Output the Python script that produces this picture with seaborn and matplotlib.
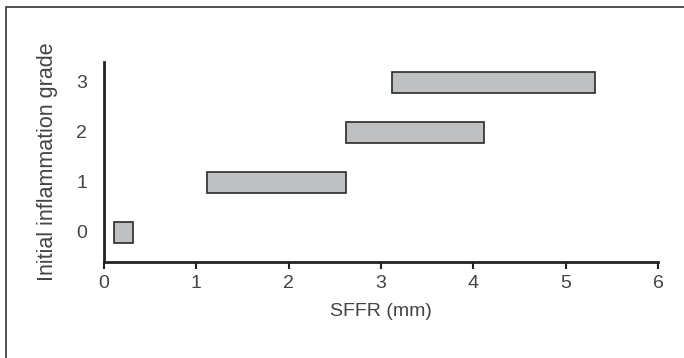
import matplotlib
matplotlib.use("Agg")
import matplotlib.pyplot as plt
import seaborn as sns
import numpy as np
from matplotlib.patches import Rectangle

grades = [0, 1, 2, 3]
sffr_start = [0.11, 1.12, 2.62, 3.12]
sffr_end = [0.31, 2.62, 4.12, 5.32]
x_ticks = [0, 1, 2, 3, 4, 5, 6]

sns.set_theme(style="white")
plt.rcParams['font.family'] = ['Liberation Sans', 'DejaVu Sans']

fig = plt.figure(figsize=(6.84, 3.58), dpi=100)
ax = fig.add_axes([104/684, (358-262)/358, (658-104)/684, (262-62)/358])

widths = np.array(sffr_end) - np.array(sffr_start)
ax.barh(grades, widths, left=sffr_start, height=0.42, color="#bfc0c2",
        edgecolor="#2a2a2a", linewidth=1.2)

ax.set_xlim(0, 6)
ax.set_ylim(-0.6, 3.4)
ax.set_xticks(x_ticks)
ax.set_yticks(grades)
txtc = "#444444"
fs = 14
ax.tick_params(axis="x", direction="out", length=5, width=1.5, color="#222222",
               labelsize=fs, labelcolor=txtc, pad=4, bottom=True)
ax.tick_params(axis="y", length=0, labelsize=fs, labelcolor=txtc, pad=12)
for s in ["top", "right"]:
    ax.spines[s].set_visible(False)
for s in ["left", "bottom"]:
    ax.spines[s].set_color("#222222")
    ax.spines[s].set_linewidth(2)
ax.set_xlabel("SFFR (mm)", fontsize=fs, color=txtc, labelpad=8)
ax.set_ylabel("Initial inflammation grade", fontsize=15.5, color=txtc, labelpad=13)

fig.add_artist(Rectangle((6/684, -0.2), 1.0, (358-7)/358 + 0.2, transform=fig.transFigure,
                         fill=False, edgecolor="#333333", linewidth=1.2, clip_on=False))

fig.savefig("out.png", dpi=100)
